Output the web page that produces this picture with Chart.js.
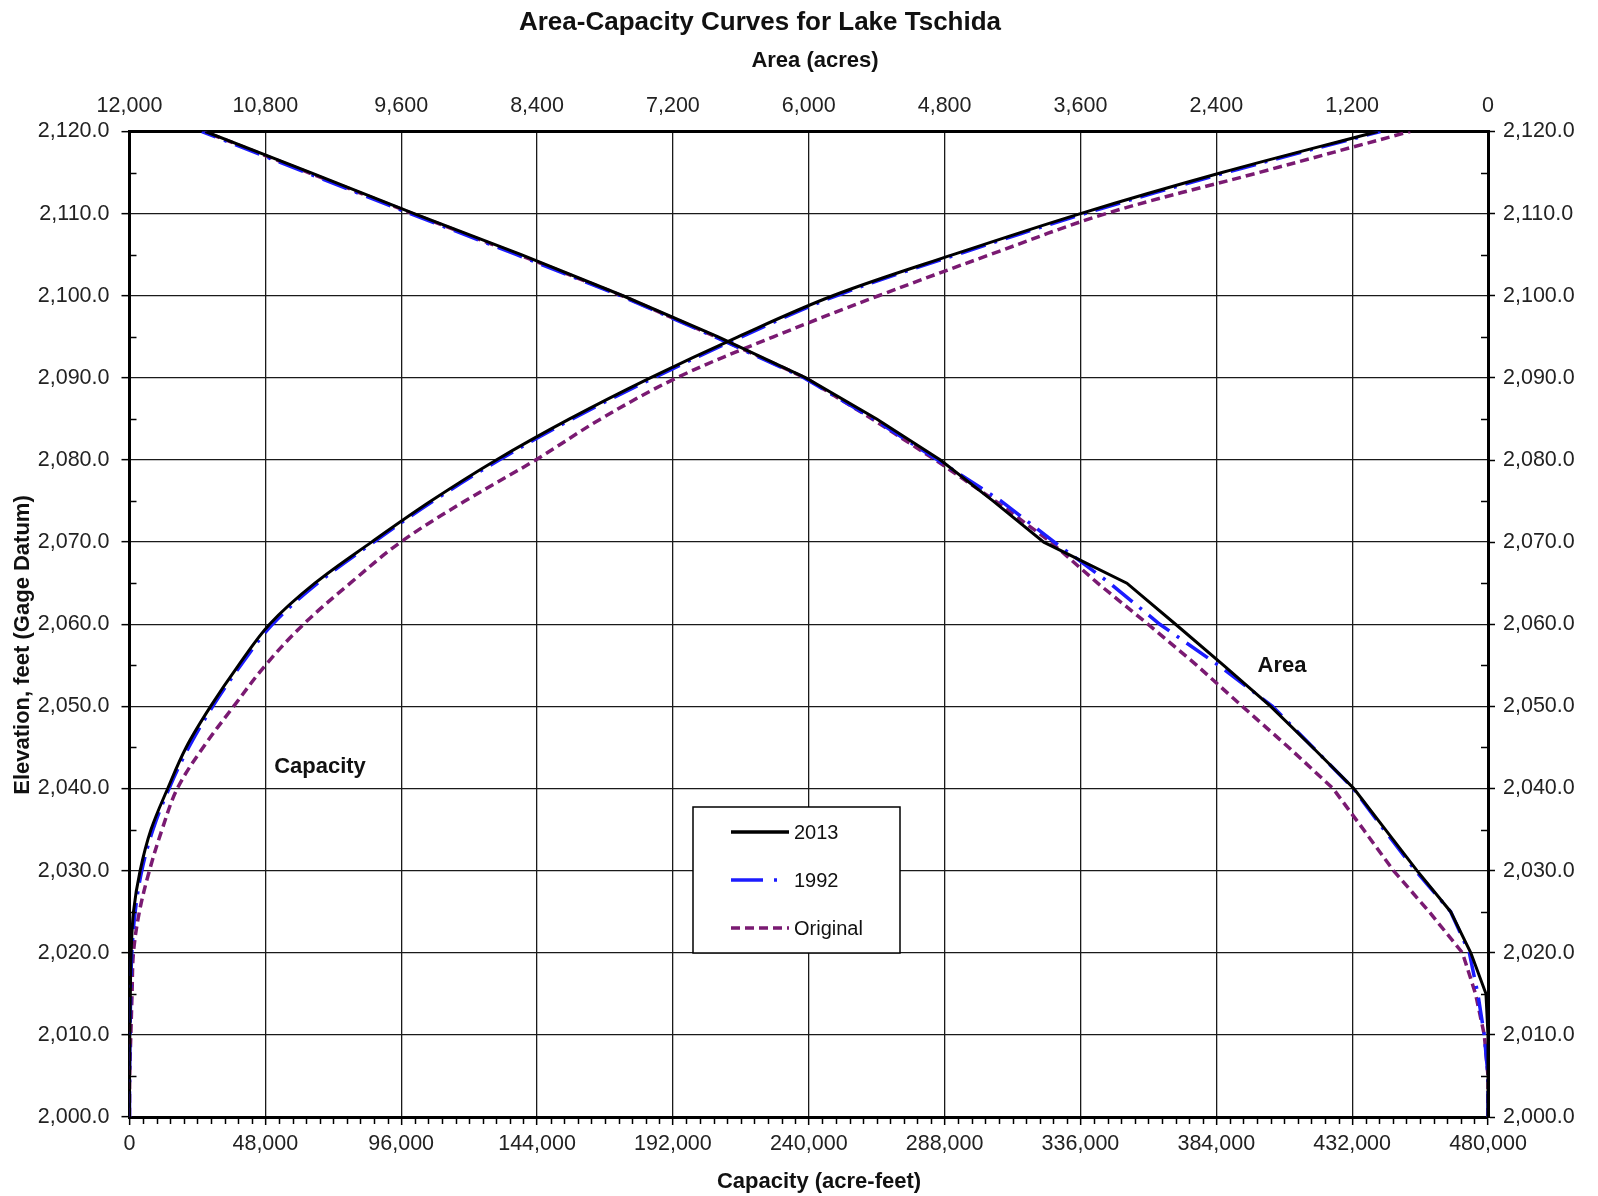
<!DOCTYPE html>
<html>
<head>
<meta charset="utf-8">
<script src="https://cdn.jsdelivr.net/npm/chart.js@4.4.0/dist/chart.umd.min.js"></script>
<style>
html, body { margin: 0; padding: 0; background: #fff; }
</style>
</head>
<body>
<canvas id="curvas" width="1598" height="1196"></canvas>
<script>
// elevation, feet (gage datum)
const elevacao = [2000, 2005, 2010, 2015, 2020, 2025, 2030, 2035, 2040, 2045, 2050, 2055, 2060,
                  2065, 2070, 2075, 2080, 2085, 2090, 2095, 2100, 2105, 2110, 2115, 2120]

// capacity, acre-feet
const cap_2013 = [0, 30, 120, 300, 590, 1410, 3760, 7600, 13500, 20000, 28650, 38500, 49500,
                  65500, 85500, 106500, 129600, 155500, 184000, 215000, 248500, 291000, 336000, 386000, 441000]
const cap_1992 = [0, 40, 180, 420, 820, 2000, 4340, 8300, 13970, 20900, 29400, 39300, 50500,
                  66500, 86300, 107300, 130600, 156400, 185200, 216200, 249700, 292200, 337500, 387500, 442000]
const cap_orig = [0, 60, 470, 900, 1400, 3500, 7040, 11500, 16900, 26000, 36800, 48000, 61500,
                  78000, 95800, 118500, 143500, 166500, 193300, 227500, 264700, 304000, 345000, 399000, 452500]

// area, acres
const area_2013 = [0, 0, 0, 18, 152, 330, 627, 906, 1185, 1548, 1920, 2335, 2760,
                   3190, 3924, 4370, 4837, 5400, 6025, 6800, 7641, 8540, 9486, 10400, 11330]
const area_1992 = [0, 0, 33, 90, 165, 330, 640, 920, 1190, 1545, 1904, 2380, 2899,
                   3340, 3830, 4300, 4860, 5430, 6040, 6830, 7660, 8580, 9520, 10440, 11360]
const area_orig = [0, 0, 33, 110, 226, 520, 835, 1100, 1369, 1760, 2170, 2572, 3003,
                   3448, 3861, 4350, 4880, 5440, 6030, 6820, 7650, 8560, 9500, 10420, 11340]

const rotulos_legenda = ['2013', '1992', 'Original']

const FONTE = "'Liberation Sans', Arial, sans-serif"
const COR_2013 = '#000000'
const COR_1992 = '#1c1cff'
const COR_ORIG = '#7a1a72'
const TRACO_1992 = [26, 9, 3, 9]
const TRACO_ORIG = [9, 5]

function pontos(valores){
    return valores.map(function(v, i){ return {x: v, y: elevacao[i]} })
}

function serie(valores, eixo_x, cor, traco, largura, curva){
    return {
        data: pontos(valores),
        xAxisID: eixo_x,
        yAxisID: 'y',
        borderColor: cor,
        borderWidth: largura,
        borderDash: traco,
        showLine: true,
        pointRadius: 0,
        tension: curva,
        fill: false
    }
}

function fmt_elev(v){
    return Number(v).toLocaleString('en-US', {minimumFractionDigits: 1, maximumFractionDigits: 1})
}
function fmt_int(v){
    return Number(v).toLocaleString('en-US')
}

// minor ticks, axis titles, curve labels and the legend box
const extras = {
    id: 'extras',
    afterDraw(chart){
        const ctx = chart.ctx
        const x = chart.scales.x
        const y = chart.scales.y
        const area = chart.chartArea
        ctx.save()

        ctx.strokeStyle = '#000'
        ctx.lineWidth = 1.5
        for(let v = 2005; v < 2120; v += 10){
            const py = Math.round(y.getPixelForValue(v)) + 0.5
            ctx.beginPath(); ctx.moveTo(area.left, py); ctx.lineTo(area.left + 7, py); ctx.stroke()
            ctx.beginPath(); ctx.moveTo(area.right, py); ctx.lineTo(area.right - 7, py); ctx.stroke()
        }
        for(let v = 4800; v < 480000; v += 4800){
            if(v % 48000 === 0) continue
            const px = Math.round(x.getPixelForValue(v)) + 0.5
            ctx.beginPath(); ctx.moveTo(px, area.bottom); ctx.lineTo(px, area.bottom + 7); ctx.stroke()
        }

        ctx.fillStyle = '#111'
        ctx.textAlign = 'center'
        ctx.textBaseline = 'middle'
        ctx.font = 'bold 26px ' + FONTE
        ctx.fillText('Area-Capacity Curves for Lake Tschida', 760, 23)
        ctx.font = 'bold 22px ' + FONTE
        ctx.fillText('Area (acres)', 815, 61)
        ctx.fillText('Capacity (acre-feet)', 819, 1182)
        ctx.save()
        ctx.translate(23, 645)
        ctx.rotate(-Math.PI / 2)
        ctx.fillText('Elevation, feet (Gage Datum)', 0, 0)
        ctx.restore()

        ctx.font = 'bold 22px ' + FONTE
        ctx.fillText('Capacity', 320, 767)
        ctx.fillText('Area', 1282, 666)

        // legend
        const caixa = {x: 693, y: 807, w: 207, h: 146}
        ctx.fillStyle = '#fff'
        ctx.fillRect(caixa.x, caixa.y, caixa.w, caixa.h)
        ctx.strokeStyle = '#000'
        ctx.lineWidth = 1.5
        ctx.strokeRect(caixa.x, caixa.y, caixa.w, caixa.h)
        const estilos = [[COR_2013, []], [COR_1992, [32, 11, 3, 30]], [COR_ORIG, TRACO_ORIG]]
        const linhas_y = [832, 880, 928]
        ctx.textAlign = 'left'
        ctx.font = '20px ' + FONTE
        for(let i = 0; i < rotulos_legenda.length; i++){
            ctx.strokeStyle = estilos[i][0]
            ctx.setLineDash(estilos[i][1])
            ctx.lineWidth = 3.5
            ctx.beginPath(); ctx.moveTo(731, linhas_y[i]); ctx.lineTo(789, linhas_y[i]); ctx.stroke()
            ctx.setLineDash([])
            ctx.fillStyle = '#111'
            ctx.fillText(rotulos_legenda[i], 794, linhas_y[i] + 1)
        }
        ctx.restore()
    }
}

const grade = {color: '#1a1a1a', lineWidth: 1.3, tickColor: '#000', tickWidth: 1.5, tickLength: 8}
const borda = {display: true, color: '#000', width: 3}
const fonte_ticks = {family: FONTE, size: 21.5}

const ctx = document.getElementById('curvas').getContext('2d')
const grafico = new Chart(ctx, {
    type: 'scatter',
    data: {
        datasets: [
            serie(cap_2013, 'x', COR_2013, [], 3, 0.35),
            serie(area_2013, 'x2', COR_2013, [], 3, 0),
            serie(cap_1992, 'x', COR_1992, TRACO_1992, 3.5, 0.35),
            serie(area_1992, 'x2', COR_1992, TRACO_1992, 3.5, 0),
            serie(cap_orig, 'x', COR_ORIG, TRACO_ORIG, 3.5, 0.35),
            serie(area_orig, 'x2', COR_ORIG, TRACO_ORIG, 3.5, 0)
        ]
    },
    options: {
        responsive: false,
        animation: false,
        devicePixelRatio: 1,
        layout: {padding: 0},
        plugins: {legend: {display: false}, tooltip: {enabled: false}, title: {display: false}},
        scales: {
            x: {
                type: 'linear', position: 'bottom', min: 0, max: 480000,
                ticks: {stepSize: 48000, padding: 6, color: '#222', font: fonte_ticks, callback: fmt_int, maxRotation: 0},
                grid: grade, border: borda,
                afterFit(s){ s.height = 79 }
            },
            x2: {
                type: 'linear', position: 'top', min: 0, max: 12000, reverse: true,
                ticks: {stepSize: 1200, padding: 13, color: '#222', font: fonte_ticks, callback: fmt_int, maxRotation: 0},
                grid: {drawOnChartArea: false, drawTicks: false}, border: borda,
                afterFit(s){ s.height = 131.5 }
            },
            y: {
                type: 'linear', position: 'left', min: 2000, max: 2120,
                ticks: {stepSize: 10, padding: 12, color: '#222', font: fonte_ticks, callback: fmt_elev},
                grid: grade, border: borda,
                afterFit(s){ s.width = 129.5 }
            },
            y2: {
                type: 'linear', position: 'right', min: 2000, max: 2120,
                ticks: {stepSize: 10, padding: 8, color: '#222', font: fonte_ticks, callback: fmt_elev},
                grid: {drawOnChartArea: false, tickColor: '#000', tickWidth: 1.5, tickLength: 7}, border: borda,
                afterFit(s){ s.width = 110 }
            }
        }
    },
    plugins: [extras]
})
</script>
</body>
</html>
